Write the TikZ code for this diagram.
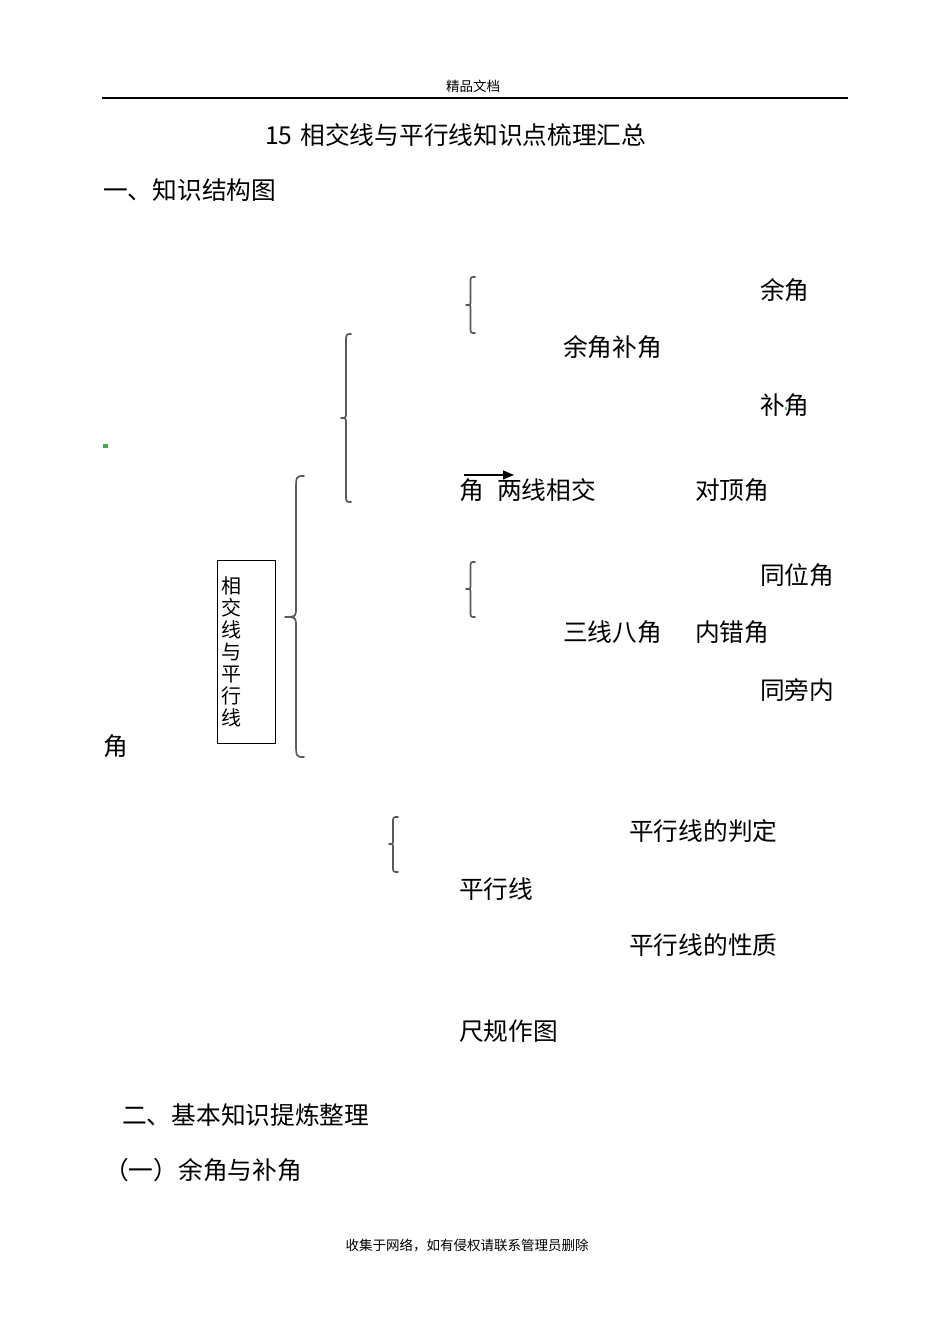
\documentclass[tikz,border=0pt]{standalone}
\usepackage{fontspec}
\setmainfont{Noto Sans CJK SC}
\usetikzlibrary{arrows.meta}
\newcommand{\drawbrc}[8]{\draw[brc] (#1,#4) .. controls (#2,#4) .. (#2,{#4+#7}) -- (#2,{#5-#8}) .. controls (#2,#5) .. (#3,#5) .. controls (#2,#5) .. (#2,{#5+#8}) -- (#2,{#6-#7}) .. controls (#2,#6) .. (#1,#6);}
\begin{document}
\begin{tikzpicture}[x=1pt,y=-1pt,
  txt/.style={anchor=west, inner sep=0pt, font=\fontsize{24.7}{28}\selectfont},
  small/.style={inner sep=0pt, font=\fontsize{13.5}{16}\selectfont},
  brc/.style={draw=black!65, line width=1.7pt, line cap=round, line join=round},
  boxstyle/.style={draw=black, line width=0.9pt, anchor=north west, text width=50pt, minimum height=183pt, inner xsep=4pt, inner ysep=0pt, align=left, font=\fontsize{20}{22}\selectfont},
  arr/.style={line width=1.4pt, -{Triangle[length=11pt,width=9pt]}}]
\useasboundingbox[fill=white] (0,0) rectangle (950,1344);
% header and footer
\node[small] (hdr) at (473,86) {精品文档};
\draw[line width=1.3pt] (102,98) -- (848,98);
\node[small] (ftr) at (467,1245) {收集于网络，如有侵权请联系管理员删除};
% titles
\node[txt] (title) at (265,135) {15\hspace{8pt}相交线与平行线知识点梳理汇总};
\node[txt] (sec1) at (103,190) {一、知识结构图};
\node[txt] (sec2) at (122,1115) {二、基本知识提炼整理};
\node[txt] (sub1) at (104,1170) {（一）余角与补角};
% box
\node[boxstyle] (box) at (217,560) {相\\交\\线\\与\\平\\行\\线};
% structure texts
\node[txt] (yj) at (760,290) {余角};
\node[txt] (yjbj) at (563,347) {余角补角};
\node[txt] (bj) at (760,405) {补角};
\node[txt] (jiao) at (459,490) {角};
\node[txt] (lxxj) at (497,490) {两线相交};
\node[txt] (ddj) at (695,490) {对顶角};
\node[txt] (twj) at (760,575) {同位角};
\node[txt] (sxbj) at (563,632) {三线八角};
\node[txt] (ncj) at (695,632) {内错角};
\node[txt] (tpn) at (760,690) {同旁内};
\node[txt] (jiao2) at (103,746) {角};
\node[txt] (pdd) at (629,831) {平行线的判定};
\node[txt] (pxx) at (459,889) {平行线};
\node[txt] (pxz) at (629,945) {平行线的性质};
\node[txt] (cgzt) at (459,1031) {尺规作图};
% arrow
\coordinate (arrS) at (464,475);
\coordinate (arrE) at (514,475);
\draw[arr] (arrS) -- (arrE);
% braces
\drawbrc{475}{470.5}{466}{277}{305}{333}{6}{4}
\drawbrc{351}{346}{341}{334}{418}{502}{9}{6}
\drawbrc{304}{296}{285}{476}{617}{757}{16}{10}
\drawbrc{475}{470.5}{466}{562}{589}{617}{6}{4}
\drawbrc{398}{393}{389}{817}{844}{872}{6}{4}
% small green marks
\fill[green!50!black!70] (103,444) rectangle (108,448);
\fill[green!50!black!60] (785,407) rectangle (787,410);
\end{tikzpicture}
\end{document}
